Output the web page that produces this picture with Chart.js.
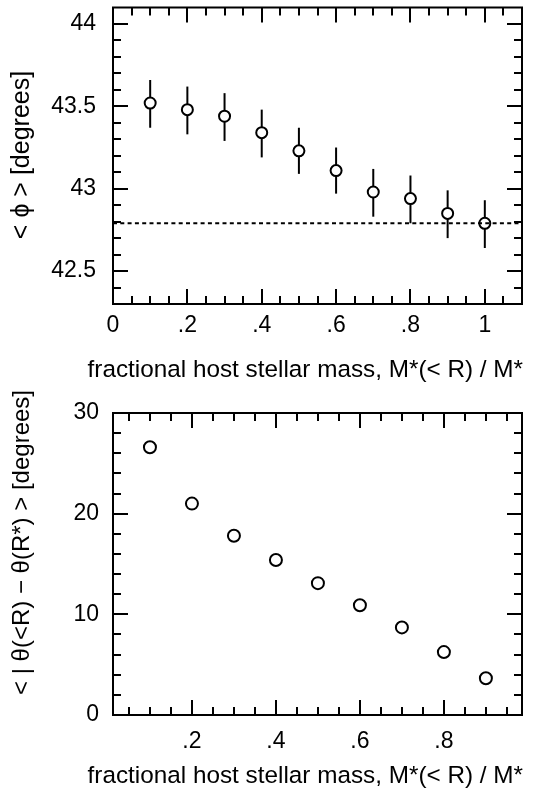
<!DOCTYPE html>
<html>
<head>
<meta charset="utf-8">
<script src="https://cdn.jsdelivr.net/npm/chart.js@4/dist/chart.umd.min.js"></script>
<style>
  html, body { margin: 0; padding: 0; background: #fff; }
  canvas { display: block; }
</style>
</head>
<body>
<canvas id="top" width="553" height="390"></canvas>
<canvas id="bot" width="553" height="408"></canvas>
<script>
// ---------- DATA ----------
const topX     = [0.1, 0.2, 0.3, 0.4, 0.5, 0.6, 0.7, 0.8, 0.9, 1.0];
const topMean  = [43.52, 43.48, 43.44, 43.34, 43.23, 43.11, 42.98, 42.94, 42.85, 42.79];
const topLow   = [43.37, 43.33, 43.29, 43.19, 43.09, 42.97, 42.83, 42.79, 42.70, 42.64];
const topHigh  = [43.66, 43.62, 43.58, 43.48, 43.37, 43.25, 43.12, 43.08, 42.99, 42.93];
const refLevel = 42.79;

const botX = [0.1, 0.2, 0.3, 0.4, 0.5, 0.6, 0.7, 0.8, 0.9];
const botY = [26.6, 21.0, 17.8, 15.4, 13.1, 10.9, 8.7, 6.25, 3.65];

const topXTickValues = [0, 0.2, 0.4, 0.6, 0.8, 1];
const topXTickLabels = ['0', '.2', '.4', '.6', '.8', '1'];
const topYTickValues = [42.5, 43, 43.5, 44];
const topYTickLabels = ['42.5', '43', '43.5', '44'];
const botXTickValues = [0.2, 0.4, 0.6, 0.8];
const botXTickLabels = ['.2', '.4', '.6', '.8'];
const botYTickValues = [0, 10, 20, 30];
const botYTickLabels = ['0', '10', '20', '30'];

const xTitle = 'fractional host stellar mass, M*(< R) / M*';
const topYTitle = '< \u03D5 > [degrees]';
const botYTitle = '< | \u03B8(<R) \u2212 \u03B8(R*) > [degrees]';

// ---------- HELPERS ----------
const FONT = "'Liberation Sans', Arial, Helvetica, sans-serif";
function labeler(vals, labs) {
  return function (v) {
    for (let i = 0; i < vals.length; i++) if (Math.abs(vals[i] - v) < 1e-6) return labs[i];
    return '';
  };
}

const errorBars = {
  id: 'errorBars',
  beforeDatasetsDraw(chart, args, opts) {
    if (!opts || !opts.low) return;
    const {ctx} = chart;
    const xs = chart.scales.x, ys = chart.scales.y;
    ctx.save();
    ctx.strokeStyle = '#000';
    ctx.lineWidth = 2;
    for (let i = 0; i < opts.x.length; i++) {
      const px = xs.getPixelForValue(opts.x[i]);
      ctx.beginPath();
      ctx.moveTo(px, ys.getPixelForValue(opts.low[i]));
      ctx.lineTo(px, ys.getPixelForValue(opts.high[i]));
      ctx.stroke();
    }
    ctx.restore();
  }
};

const frameTicks = {
  id: 'frameTicks',
  afterDraw(chart) {
    const {ctx, chartArea: a} = chart;
    const xs = chart.scales.x, ys = chart.scales.y;
    const MAJ = 15, MIN = 8;
    ctx.save();
    ctx.strokeStyle = '#000';
    ctx.lineWidth = 2;
    ctx.lineCap = 'butt';
    ctx.beginPath();
    xs.ticks.forEach(t => {
      const px = Math.round(xs.getPixelForValue(t.value));
      if (px < a.left + 1 || px > a.right - 1) return;
      const L = t.label ? MAJ : MIN;
      ctx.moveTo(px, a.bottom); ctx.lineTo(px, a.bottom - L);
      ctx.moveTo(px, a.top); ctx.lineTo(px, a.top + L);
    });
    ys.ticks.forEach(t => {
      const py = Math.round(ys.getPixelForValue(t.value));
      if (py < a.top + 1 || py > a.bottom - 1) return;
      const L = t.label ? MAJ : MIN;
      ctx.moveTo(a.left, py); ctx.lineTo(a.left + L, py);
      ctx.moveTo(a.right, py); ctx.lineTo(a.right - L, py);
    });
    ctx.stroke();
    ctx.strokeRect(a.left, a.top, a.right - a.left, a.bottom - a.top);
    ctx.restore();
  }
};

// axis titles drawn without width compression
const axisTitles = {
  id: 'axisTitles',
  afterDraw(chart, args, o) {
    const {ctx} = chart;
    ctx.save();
    ctx.fillStyle = '#000';
    ctx.textBaseline = 'middle';
    ctx.font = o.xSize + 'px ' + FONT;
    ctx.textAlign = 'right';
    ctx.fillText(o.xText, chart.chartArea.right + 1, o.xY);
    ctx.translate(o.yX, o.yY);
    ctx.rotate(-Math.PI / 2);
    ctx.font = o.ySize + 'px ' + FONT;
    ctx.textAlign = 'center';
    ctx.fillText(o.yText, 0, 0);
    ctx.restore();
  }
};

function axisCommon() {
  return {
    type: 'linear',
    grid: { display: false, drawTicks: false, tickLength: 0 },
    border: { display: false },
  };
}

function makeChart(id, cfg) {
  return new Chart(document.getElementById(id), {
    type: 'scatter',
    data: { datasets: cfg.datasets },
    options: {
      responsive: false,
      animation: false,
      devicePixelRatio: 1,
      layout: { padding: { top: cfg.padTop, right: 31, left: 0, bottom: 0 } },
      plugins: {
        legend: { display: false }, tooltip: { enabled: false },
        errorBars: cfg.err || {},
        axisTitles: { xText: xTitle, xSize: 24.3, xY: cfg.xTitleY,
                      yText: cfg.yTitle, ySize: cfg.yTitleSize, yX: 22, yY: cfg.yTitleY }
      },
      scales: {
        x: Object.assign(axisCommon(), {
          min: cfg.xMin, max: cfg.xMax,
          ticks: { stepSize: 0.05, autoSkip: false, maxRotation: 0, includeBounds: false,
                   padding: cfg.xPad, color: '#000', font: { family: FONT, size: 23 },
                   callback: labeler(cfg.xVals, cfg.xLabs) },
          title: { display: false },
          afterFit: s => { s.height = cfg.xHeight; s.paddingLeft = 0; s.paddingRight = 0; }
        }),
        y: Object.assign(axisCommon(), {
          min: cfg.yMin, max: cfg.yMax,
          ticks: { stepSize: cfg.yStep, autoSkip: false, includeBounds: false,
                   padding: cfg.yPad, color: '#000', font: { family: FONT, size: 23 },
                   callback: labeler(cfg.yVals, cfg.yLabs) },
          title: { display: false },
          afterFit: s => { s.width = 113; s.paddingTop = 0; s.paddingBottom = 0; }
        })
      }
    },
    plugins: [errorBars, frameTicks, axisTitles]
  });
}

// ---------- TOP PANEL ----------
makeChart('top', {
  padTop: 4, xHeight: 86, xPad: 8, yPad: 17, xTitleY: 370, yTitleSize: 25, yTitleY: 155,
  xMin: 0, xMax: 1.1, yMin: 42.3, yMax: 44.1, yStep: 0.1,
  xVals: topXTickValues, xLabs: topXTickLabels,
  yVals: topYTickValues, yLabs: topYTickLabels,
  yTitle: topYTitle,
  err: { x: topX, low: topLow, high: topHigh },
  datasets: [
    { type: 'line', data: [{x: 0, y: refLevel}, {x: 1.1, y: refLevel}],
      borderColor: '#000', borderWidth: 2, borderDash: [4, 3.3], pointRadius: 0, fill: false },
    { data: topX.map((x, i) => ({x, y: topMean[i]})),
      pointRadius: 5.5, pointBorderWidth: 2, borderColor: '#000', backgroundColor: '#fff',
      pointBackgroundColor: '#fff', pointBorderColor: '#000' }
  ]
});

// ---------- BOTTOM PANEL ----------
makeChart('bot', {
  padTop: 23, xHeight: 83, xPad: 13, yPad: 14, xTitleY: 386, yTitleSize: 24, yTitleY: 152.5,
  xMin: 0.012, xMax: 0.986, yMin: 0, yMax: 30, yStep: 2,
  xVals: botXTickValues, xLabs: botXTickLabels,
  yVals: botYTickValues, yLabs: botYTickLabels,
  yTitle: botYTitle,
  datasets: [
    { data: botX.map((x, i) => ({x, y: botY[i]})),
      pointRadius: 6, pointBorderWidth: 2, borderColor: '#000', backgroundColor: '#fff',
      pointBackgroundColor: '#fff', pointBorderColor: '#000' }
  ]
});
</script>
</body>
</html>
